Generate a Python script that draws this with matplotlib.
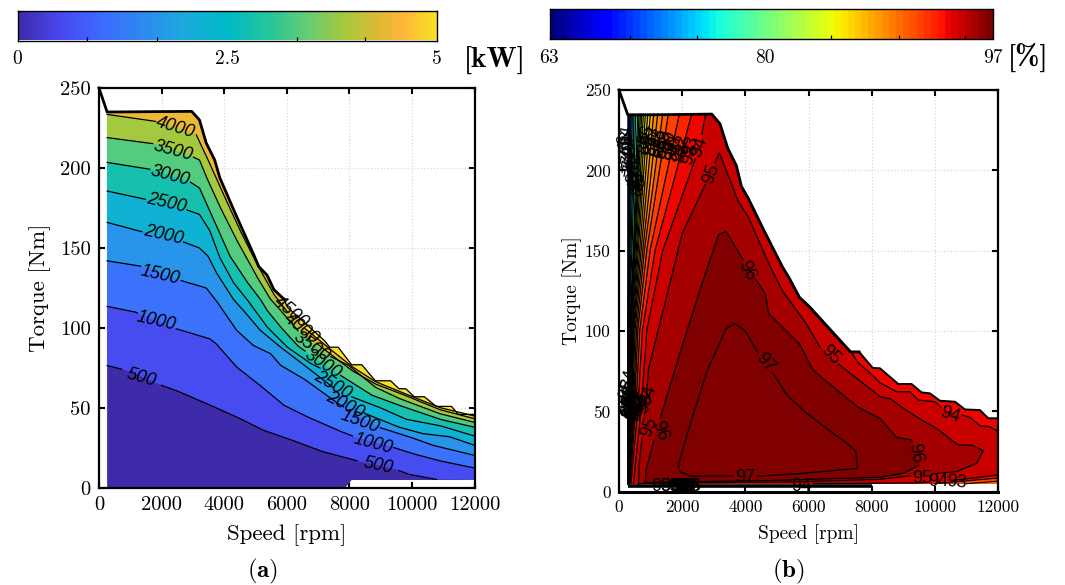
import numpy as np
import matplotlib
matplotlib.use('Agg')
import matplotlib.pyplot as plt
from matplotlib.colors import LinearSegmentedColormap, Normalize

plt.rcParams['font.family'] = ['cmr10', 'DejaVu Serif']
plt.rcParams['mathtext.fontset'] = 'cm'
plt.rcParams['axes.formatter.use_mathtext'] = True

W, H = 1065, 585

# =========================
# Panel (a): power loss contours, (speed, torque)
# =========================
a_levels = [500, 1000, 1500, 2000, 2500, 3000, 3500, 4000, 4500]
a_lines = {
    500: [(259, 76.5), (886, 73.5), (1913, 64.8), (2454, 61), (3319, 53.8), (4400, 44.4), (5265, 36), (6130, 30.2),
          (7102, 23), (8183, 17.3), (9481, 11.7), (9913, 8.5), (10778, 5.4), (12000, 5)],
    1000: [(259, 113.5), (1157, 110), (2454, 99.6), (3535, 93.3), (3751, 90), (4400, 75.6), (5157, 64), (5913, 51.7),
           (6670, 44.4), (7643, 36), (8183, 31.9), (9373, 25.6), (10022, 21.5), (10886, 17), (12000, 12.5)],
    1500: [(259, 142), (1373, 138.5), (2562, 130), (3427, 125), (3751, 117), (4400, 98.5), (4940, 89), (5481, 84),
           (5805, 76.7), (6562, 68), (7643, 52.7), (8940, 38), (9913, 32), (10670, 26.7), (12000, 20.4)],
    2000: [(259, 166), (1481, 159.6), (2670, 154), (3211, 150), (3481, 145), (3751, 134.6), (4292, 118), (4616, 111),
           (5157, 98.5), (5805, 88), (6346, 80), (7210, 67), (8508, 46.5), (9589, 38), (10346, 34), (11211, 32),
           (12000, 26.7)],
    2500: [(259, 185.6), (1589, 180), (2778, 174), (3211, 171), (3535, 161), (3859, 144), (4292, 128.5), (4724, 118),
           (5373, 100.6), (6021, 88), (6778, 77.7), (7210, 73.5), (8076, 57), (8940, 50.6), (9805, 43), (10886, 39),
           (12000, 32.5)],
    3000: [(259, 203.5), (1697, 199), (2886, 191.6), (3211, 187.5), (3427, 178), (3751, 164), (4184, 145), (4724, 129),
           (5157, 118), (5373, 111), (5805, 100.6), (6346, 89), (7210, 76.7), (8724, 58), (9589, 51.7), (10886, 43),
           (12000, 38)],
    3500: [(259, 219), (1805, 215), (2994, 207), (3211, 205), (3427, 194.6), (3859, 176), (4400, 155), (5048, 132),
           (5481, 118), (5805, 111), (6346, 98.5), (7210, 84), (7967, 76.7), (8832, 63), (9589, 56), (10886, 46.5),
           (12000, 41)],
    4000: [(259, 233.5), (1859, 229), (3103, 221), (3427, 207.6), (3967, 184), (4508, 161), (5048, 140), (5589, 121),
           (6021, 110), (6562, 96.5), (7373, 84), (8076, 73.5), (8832, 65), (9643, 59), (10886, 49), (12000, 43.3)],
    4500: [(5914, 114), (6562, 100), (7373, 87), (8076, 76), (8832, 66.5), (9643, 60), (10886, 50.3), (12000, 45)],
}
a_edge = [(259, 235), (2962, 235.4), (3211, 230), (3427, 215.6), (3697, 205), (3859, 194), (4346, 172), (4941, 146),
          (5103, 138.5), (5373, 133), (5589, 124), (5914, 118), (6021, 113), (7210, 92), (7373, 88), (7643, 88),
          (8076, 77), (8400, 77), (8832, 67), (9319, 67), (9589, 62), (9805, 62), (10076, 57), (10400, 57),
          (10778, 51), (11265, 51), (11481, 46), (12000, 46)]
a_floor = [(12000, 5), (8076, 5), (7860, 0), (259, 0)]
a_limit = [(0, 250), (259, 235), (2962, 235.4), (3211, 230), (3427, 215.6), (3697, 205), (3859, 194), (4346, 172),
           (4941, 146), (5103, 138.5), (5373, 133), (5589, 124), (5914, 118)]
a_labels = [(4000, 2454, 225, -17), (3500, 2378, 211, -15), (3000, 2270, 195, -15), (2500, 2162, 178, -13),
            (2000, 2054, 158, -13), (1500, 1946, 133, -13), (1000, 1838, 104, -13), (500, 1340, 69, -16),
            (500, 8908, 14, -12), (1000, 8756, 27.7, -15), (1500, 8324, 41.7, -20), (2000, 7859, 51.7, -27),
            (2500, 7481, 64, -30), (3000, 7156, 77.7, -33), (3500, 6778, 88, -35), (4000, 6454, 99.6, -38),
            (4500, 6130, 110, -40)]

a_cbar_stops = ['#3E2BAA', '#4848F0', '#3E6CFF', '#2E8AF0', '#1CABDD', '#00BBC8', '#25C69B', '#5DCD7A',
                '#A5C93E', '#DDBB33', '#FFB63A', '#FCCD2E', '#F5E225']
a_cbar_pos = [0, .1, .2, .3, .4, .5, .6, .68, .78, .86, .92, .96, 1]
a_cbar_minor = [0.833, 1.667, 2.5, 3.33, 4.15]

# =========================
# Panel (b): efficiency contours
# =========================
b_edge = [(2938, 235), (3197, 229), (3445, 213.7), (3715, 203), (3877, 190), (4093, 182.6), (4579, 163), (5173, 140),
          (5389, 133), (5713, 121), (6037, 115), (7333, 87), (7603, 87), (8035, 77), (8263, 76.8), (8843, 67),
          (9265, 67), (9582, 61.8), (9846, 61.2), (10162, 56.6), (10637, 56), (10953, 51.2), (11428, 50.8),
          (11692, 45.7), (12000, 45.7)]
b_thick = [(0, 250), (281, 234.4), (2938, 235), (3197, 229), (3445, 213.7), (3715, 203), (3877, 190), (4093, 182.6),
           (4579, 163), (5173, 140), (5389, 133), (5713, 121), (6037, 115), (7333, 87), (7603, 87)]
b_floor = [(281, 3.8), (8000, 3.8)]

# fan of steep lines at low speed: speed of each level at these torques
fan_torque = [5, 50, 100, 150, 235]
fan_levels = [93, 92, 91, 90, 89, 88, 87, 86, 85, 84, 83, 82, 81, 80, 78, 76, 74, 72, 70, 67, 63]
fan_at_5 = [380, 348, 327, 317, 306, 301, 296, 293, 291, 289, 287, 285, 284, 283, 282, 281, 280, 279, 278, 276, 270]
fan_at_50 = [591, 528, 485, 454, 422, 401, 380, 359, 348, 338, 327, 317, 311, 306, 296, 293, 289, 286, 283, 279, 270]
fan_at_100 = [738, 654, 591, 549, 506, 475, 454, 433, 411, 390, 369, 359, 348, 338, 317, 300, 296, 290, 285, 280, 270]
fan_at_150 = [1139, 981, 876, 802, 749, 696, 654, 612, 580, 549, 517, 496, 475, 454, 411, 380, 348, 327, 306, 285, 270]
fan_at_235 = [2301, 1911, 1562, 1383, 1224, 1098, 992, 908, 834, 771, 718, 676, 633, 591, 528, 475, 422, 380, 348, 306,
              270]

b_94 = [(454, 5), (696, 50), (876, 100), (1382, 150), (2549, 214.6), (2743, 235), (2938, 235), (3197, 229),
        (3445, 213.7), (3715, 203), (3877, 190), (4093, 182.6), (4579, 163), (5173, 140), (5389, 133), (5713, 121),
        (5821, 119), (6685, 100), (7387, 86), (7549, 80.7), (8000, 73), (8263, 67.8), (8791, 62.2), (9213, 62.2),
        (9476, 57), (10004, 56), (10267, 51.2), (11112, 46.3), (11428, 41), (11744, 40.5), (12000, 37.4),
        (12000, 10.4), (11428, 9), (10690, 7.3), (9500, 5.5), (5800, 5)]
b_95 = [(612, 5), (640, 18), (770, 40.6), (850, 55), (928, 76), (1555, 125), (1987, 160), (2797, 194), (3175, 211),
        (3769, 181), (4093, 171), (4741, 142), (5173, 125), (5929, 104.6), (6361, 90), (7063, 77.6), (7603, 69.4),
        (8089, 62), (8263, 59.1), (8580, 58), (9002, 51.9), (9582, 44.6), (10056, 39.4), (10742, 29), (11164, 29),
        (11533, 25.5), (11322, 17.7), (10690, 12.5), (9002, 9.4), (8263, 7.7), (5500, 6), (1500, 5.5), (612, 5)]
b_96 = [(823, 5.5), (853, 13.5), (1192, 38.4), (1825, 79.7), (2527, 123.5), (3153, 160), (3391, 162), (3877, 146),
        (4633, 123), (4741, 110.8), (5713, 92), (6145, 75.6), (7549, 52.8), (8263, 45.6), (8791, 33.8), (9265, 32.2),
        (9508, 16.6), (9002, 11.4), (8263, 9), (5000, 7), (1500, 6), (823, 5.5)]
b_97 = [(3391, 101.4), (3661, 104.6), (3985, 100.4), (4417, 86), (4957, 71.4), (5281, 61), (5821, 50.7), (6361, 42.4),
        (7225, 30), (7495, 25.3), (7549, 14.5), (5821, 11.4), (4525, 9.7), (2257, 9.7), (1933, 12.4), (1879, 16.6),
        (2257, 42.4), (2797, 75.6), (3391, 101.4)]
b_low_right = [(92, 12000, 8.5, 10000), (90, 12000, 6.5, 11000)]

b_labels = [(94, 2549, 214.6, 70), (95, 2938, 197.5, 70), (96, 4039, 137.5, -62), (97, 4633, 80, -50),
            (95, 6685, 85, -45), (94, 10487, 47.6, -18), (96, 9385, 24, -80), (97, 3985, 9, 0), (94, 5767, 3.5, 0),
            (95, 9601, 8, 0), (94, 10109, 6.6, 0), (93, 10703, 6, -5), (95, 961, 40, 70), (96, 1307, 38, -70)]

# clusters of overlapping labels
top_row_x = [876, 1087, 1245, 1403, 1561, 1751, 1983, 2247]
top_row_text = ['86', '87', '88', '89', '90', '91', '92', '93']
top_row_upper_t = [222, 221, 220, 219, 218, 217, 216, 215]
top_row_lower_t = [216, 215, 214, 213.5, 212.5, 211.5, 210.5, 209.5]
left_row_x = [211, 222, 253, 295, 327, 369, 401, 454, 506, 559, 612, 665]
left_row_t = [222, 219, 216, 213, 209.5, 206, 204, 201, 198, 195, 193, 190]
left_row_text = ['64', '66', '68', '70', '72', '74', '76', '78', '80', '81', '83', '85']
blob_x = [348, 275, 310, 350, 390, 430, 470, 510, 550, 590, 630, 290, 330, 370, 410, 450, 490, 530, 570, 928, 850]
blob_t = [70, 64, 60, 60, 59, 58, 58, 57, 56, 55, 54, 54, 53, 52, 52, 51, 51, 50, 50, 60, 55]
blob_text = ['84', '85', '86', '87', '88', '89', '90', '91', '92', '93', '93', '86', '87', '88', '89', '90', '91', '92',
             '93', '94', '93']
floor_x = [1351, 1614, 1878, 1930, 1983, 2036, 2089, 2141, 2194, 2247, 2300]
floor_text = ['95', '96', '93', '92', '91', '90', '89', '88', '87', '86', '85']

b_cbar_minor = [64.1, 69.2, 74.3, 79.5, 84.6, 89.8, 94.9]


def add_axes(fig, left, right, top, bottom):
    return fig.add_axes([left / W, 1 - bottom / H, (right - left) / W, (bottom - top) / H])


def contour_line(ax, pts, labels, level, color='k', lw=0.9):
    # cut a gap where this level's own label sits
    pts = np.array(pts, dtype=float)
    px = ax.transData.transform(pts)
    dist = np.r_[0, np.cumsum(np.hypot(*np.diff(px, axis=0).T))]
    s = np.arange(0, dist[-1] + 1, 1.0)
    xs = np.interp(s, dist, pts[:, 0])
    ys = np.interp(s, dist, pts[:, 1])
    p = ax.transData.transform(np.c_[xs, ys])
    for lev, lx, ly, rot in labels:
        if lev == level:
            c = ax.transData.transform((lx, ly))
            r = 21 if level >= 500 else 12
            hit = np.hypot(p[:, 0] - c[0], p[:, 1] - c[1]) < r
            ys = np.where(hit, np.nan, ys)
    ax.plot(xs, ys, color=color, lw=lw, zorder=3, solid_joinstyle='round')


def style_axes(ax, tick_size, label_size, label_y, label_x):
    ax.set_xlim(0, 12000)
    ax.set_ylim(0, 250)
    ax.set_xticks(range(0, 12001, 2000))
    ax.set_yticks(range(0, 251, 50))
    ax.set_xticklabels([str(v) for v in range(0, 12001, 2000)])
    ax.set_yticklabels([str(v) for v in range(0, 251, 50)])
    ax.tick_params(direction='in', top=True, right=True, length=4, width=1.5, labelsize=tick_size, pad=6)
    ax.grid(True, ls=':', color='#D8D8D8', lw=0.9)
    ax.set_axisbelow(True)
    for s in ax.spines.values():
        s.set_linewidth(1.6)
        s.set_zorder(6)
    ax.set_xlabel('Speed [rpm]', fontsize=label_size, va='center')
    ax.set_ylabel('Torque [Nm]', fontsize=label_size, va='center')
    ax.xaxis.set_label_coords(0.5, label_y)
    ax.yaxis.set_label_coords(label_x, 0.5)


def colorbar(fig, box, cmap, vmin, vmax, ticks, text, minor, size):
    ax = add_axes(fig, *box)
    ax.imshow(np.linspace(vmin, vmax, 256)[None, :], aspect='auto', cmap=cmap, vmin=vmin, vmax=vmax,
              extent=[vmin, vmax, 0, 1], interpolation='nearest')
    ax.set_yticks([])
    ax.set_xticks(ticks)
    ax.set_xticklabels(text)
    ax.set_xticks(minor, minor=True)
    ax.tick_params(axis='x', which='major', length=0, labelsize=size, pad=7)
    ax.tick_params(axis='x', which='minor', direction='in', length=3, width=0.9)
    for s in ax.spines.values():
        s.set_linewidth(1.0)


fig = plt.figure(figsize=(W / 100, H / 100), dpi=100)

# =========================
# Panel (a)
# =========================
parula = LinearSegmentedColormap.from_list('lossmap', list(zip(a_cbar_pos, a_cbar_stops)))
colorbar(fig, (17.5, 436.5, 10.5, 40.5), parula, 0, 5, [0, 2.5, 5], ['0', '2.5', '5'], a_cbar_minor, 14)
fig.text(495 / W, 1 - 60 / H, '[kW]', fontfamily='cmb10', fontsize=21, ha='center', va='center')

ax1 = add_axes(fig, 99, 474.5, 88, 488)
style_axes(ax1, 14.8, 16.5, -0.1175, -0.158)

base = a_edge + a_floor
ax1.fill(*zip(*base), color=parula(0.0), lw=0)
for lev in a_levels:
    line = a_lines[lev]
    rest = [p for p in a_edge if p[0] >= line[0][0]][::-1]
    ax1.fill(*zip(*(line + rest)), color=parula(lev / 4500), lw=0)
for lev in a_levels:
    contour_line(ax1, [p for p in a_lines[lev] if p[1] > 5 or p[0] < 12000], a_labels, lev)
ax1.plot(*zip(*a_edge[11:]), color='k', lw=0.9, zorder=4)
ax1.plot(*zip(*a_limit), color='k', lw=2.0, zorder=4, clip_on=False, solid_joinstyle='round')
for lev, x, y, rot in a_labels:
    ax1.text(x, y, str(lev), fontfamily='Liberation Sans', style='italic', fontsize=13, rotation=rot,
             rotation_mode='anchor', ha='center', va='center', zorder=5)

fig.text(263 / W, 1 - 571 / H, r'($\mathbf{a}$)', fontsize=18, ha='center', va='center')

# =========================
# Panel (b)
# =========================
jet = plt.get_cmap('jet', 64)
norm = Normalize(63, 97)
colorbar(fig, (549.5, 992.5, 8.5, 39), jet, 63, 97, [63, 79.5, 97], ['63', '80', '97'], b_cbar_minor, 14)
fig.text(1028 / W, 1 - 57 / H, '[%]', fontfamily='cmb10', fontsize=21, ha='center', va='center')

ax2 = add_axes(fig, 619, 998, 90, 491.7)
style_axes(ax2, 12.5, 14, -0.1065, -0.125)
ax2.spines['bottom'].set_linewidth(2.2)

ax2.fill(*zip(*([(270, 5), (270, 235)] + b_edge + [(12000, 5)])), color=jet(norm(63.0)), lw=0)
fan_rows = list(zip(fan_levels, fan_at_5, fan_at_50, fan_at_100, fan_at_150, fan_at_235))[::-1]
for row in fan_rows:
    line = list(zip(row[1:], fan_torque))
    rest = [p for p in b_edge if p[0] > line[-1][0]]
    ax2.fill(*zip(*(line + rest + [(12000, 5)])), color=jet(norm(row[0] + 0.5)), lw=0)
    contour_line(ax2, line, [], row[0])
for lev, x_edge, t_edge, x_floor in b_low_right:
    ax2.fill([x_edge, x_edge, x_floor], [5, t_edge, 5], color=jet(norm(lev - 0.5)), lw=0)
    ax2.plot([x_edge, x_floor], [t_edge, 5], color='k', lw=0.8, zorder=3)
for lev, shape in [(94, b_94), (95, b_95), (96, b_96), (97, b_97)]:
    ax2.fill(*zip(*shape), color=jet(norm(min(lev + 0.5, 97))), lw=0)
for lev, shape in [(94, b_94), (95, b_95), (96, b_96), (97, b_97)]:
    contour_line(ax2, shape, b_labels, lev)
ax2.plot(*zip(*b_edge[11:]), color='k', lw=1.4, zorder=4)
ax2.plot(*zip(*b_thick), color='k', lw=2.0, zorder=4, clip_on=False, solid_joinstyle='round')
ax2.plot(*zip(*b_floor), color='k', lw=2.6, zorder=4, solid_capstyle='butt')

label_style = dict(fontfamily='Liberation Sans', fontsize=13, ha='center', va='center', zorder=5,
                   rotation_mode='anchor')
for lev, x, y, rot in b_labels:
    ax2.text(x, y, str(lev), rotation=rot, **label_style)
for row_t in (top_row_upper_t, top_row_lower_t):
    for x, t, s in zip(top_row_x, row_t, top_row_text):
        ax2.text(x, t, s, rotation=70, **label_style)
for x, t, s in zip(left_row_x, left_row_t, left_row_text):
    ax2.text(x, t, s, rotation=80, **label_style)
for x, t, s in zip(blob_x, blob_t, blob_text):
    ax2.text(x, t, s, rotation=75, **label_style)
for x, s in zip(floor_x, floor_text):
    ax2.text(x, 3.5, s, **label_style)

fig.text(788 / W, 1 - 571 / H, r'($\mathbf{b}$)', fontsize=18, ha='center', va='center')

fig.savefig('out.png', dpi=100)
